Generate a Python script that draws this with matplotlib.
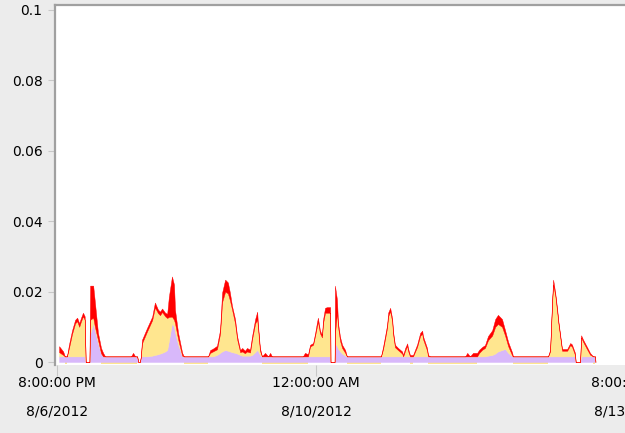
from typing import List

import matplotlib
matplotlib.use('Agg')
import matplotlib.pyplot as plt
from matplotlib import font_manager
import numpy as np

# Constant Value
FIG_BG = '#ececec'
RED = '#ff0000'
YELLOW = '#ffe68f'
PURPLE = '#d8b8fa'
BORDER = '#a0a0a0'
TICK_COLOR = '#c8c8c8'

# hours after 8/6/2012 8:00:00 PM
HOURS = [0.6, 1.8, 2.3, 2.9, 3.5, 4.4, 5.3, 5.9, 6.5, 7.0, 7.6, 8.1, 8.4, 9.5, 9.7, 10.6, 11.1, 12.0,
         12.9, 13.5, 14.1, 21.7, 22.3, 22.9, 23.5, 23.8, 24.3, 24.6, 24.9, 26.4, 27.9, 28.7, 29.6, 30.2,
         30.8, 31.7, 32.3, 32.8, 33.7, 34.3, 34.6, 35.5, 36.7, 37.2, 44.3, 44.9, 45.7, 46.9, 47.8, 48.4,
         49.3, 50.1, 50.7, 51.3, 52.2, 52.8, 53.7, 54.3, 55.1, 55.7, 56.6, 57.2, 58.1, 58.7, 58.9, 59.5,
         60.1, 61.0, 61.9, 62.5, 63.0, 72.1, 72.7, 73.6, 74.2, 75.1, 75.7, 76.2, 76.5, 77.1, 77.7, 78.0,
         78.6, 79.2, 80.1, 80.2, 81.4, 81.5, 82.1, 82.4, 83.0, 83.6, 84.5, 85.0, 95.0, 95.6, 96.2, 96.8,
         97.1, 97.7, 98.3, 98.5, 99.1, 100.0, 101.2, 101.5, 102.1, 102.7, 102.9, 103.5, 104.4, 105.6,
         106.5, 107.1, 107.3, 108.5, 108.8, 109.4, 119.7, 120.3, 121.1, 122.0, 123.2, 123.8, 124.7,
         125.5, 126.4, 127.6, 128.5, 129.3, 130.5, 131.4, 132.3, 133.5, 133.7, 144.0, 144.6, 145.2,
         145.5, 146.1, 146.7, 147.0, 147.6, 148.1, 149.6, 150.5, 151.0, 151.9, 152.1, 153.4, 153.7,
         154.3, 155.4, 156.3, 157.2, 157.8, 157.9]

# series values in thousandths, stacked bottom to top
PURPLE_VALUES = [1.6, 1.6, 1.6, 1.6, 1.6, 1.6, 1.6, 1.6, 1.6, 1.6, 1.6, 1.6, 0, 0, 8.0, 11.0, 9.0, 5.4,
                 2.5, 1.6, 1.6, 1.6, 1.6, 1.6, 1.6, 0, 0, 1.6, 1.6, 1.6, 1.8, 2.0, 2.2, 2.4,
                 2.6, 3.0, 3.4, 6.0, 11.0, 10.0, 8.5, 5.0, 1.6, 1.6, 1.6, 1.6, 1.6, 2.0, 2.6, 3.0,
                 3.4, 3.2, 3.0, 2.8, 2.6, 2.4, 2.0, 1.8, 1.8, 1.8, 1.8, 2.0, 2.8, 3.4, 3.2, 2.0,
                 1.6, 1.6, 1.6, 1.6, 1.6, 1.6, 1.6, 1.6, 1.6, 1.6, 1.6, 1.6, 1.6, 1.6, 1.6, 1.6,
                 1.6, 1.6, 1.6, 0, 0, 5.4, 4.5, 3.8, 3.0, 2.4, 1.8, 1.6, 1.6, 1.6, 1.6, 1.6,
                 1.6, 1.6, 1.6, 1.6, 1.6, 1.6, 1.6, 1.6, 1.6, 1.6, 1.6, 1.6, 1.6, 1.6,
                 1.6, 1.6, 1.6, 1.6, 1.6, 1.6, 1.6, 1.6, 1.6, 1.6, 1.6, 1.6, 1.6,
                 1.6, 1.8, 2.0, 2.4, 3.0, 3.4, 3.7, 2.6, 1.6, 1.6, 1.6, 1.6, 1.6,
                 1.6, 1.6, 1.6, 1.6, 1.6, 1.6, 1.6, 1.6, 1.6, 1.6, 0, 0, 1.6,
                 1.6, 1.6, 1.6, 1.6, 1.6, 0]
YELLOW_VALUES = [1.2, 0.4, 0, 0, 2.4, 6.4, 9.4, 10.0, 8.4, 9.9, 11.4, 10.4, 0, 0, 4.0, 1.6, 1.0, 0.9,
                 0, 0, 0, 0, 0, 0, 0, 0, 0, 0, 3.7, 7.1, 10.1, 13.5, 11.7, 10.9,
                 11.6, 10.0, 9.1, 6.8, 1.9, 2.0, 2.5, 1.5, 0.2, 0, 0, 1.0, 1.4, 1.6, 5.4, 14.0,
                 16.6, 16.3, 14.5, 12.2, 8.4, 4.1, 0.8, 1.2, 0.7, 1.2, 0.9, 4.5, 8.2, 8.6, 6.8, 1.2,
                 0, 0, 0, 0, 0, 0, 0, 0, 2.8, 3.3, 6.0, 8.4, 9.9, 6.6, 5.4, 9.4,
                 12.4, 12.4, 12.4, 0, 0, 2.6, 9.5, 6.2, 3.0, 1.6, 0.8, 0, 0, 2.0, 5.0, 8.2,
                 11.4, 12.8, 9.8, 6.6, 2.6, 1.8, 0.8, 0, 1.7, 3.0, 1.7, 0, 0, 2.7,
                 5.9, 6.4, 5.0, 1.7, 0, 0, 0, 0, 0, 0, 0, 1.0, 1.9,
                 2.4, 4.4, 5.5, 7.6, 7.8, 6.6, 3.8, 1.9, 0.2, 0, 0, 1.4, 15.4,
                 20.4, 17.4, 12.4, 9.6, 5.2, 1.6, 1.6, 3.2, 2.8, 0.4, 0, 0, 5.4,
                 4.1, 2.1, 0.5, 0, 0, 0]
RED_VALUES = [1.7, 1.0, 0, 0, 1.0, 1.0, 1.0, 1.0, 1.0, 1.0, 1.0, 1.0, 0, 0, 9.7, 9.1, 7.0, 2.0,
              1.5, 1.0, 0, 0, 1.0, 0, 0, 0, 0, 0, 1.0, 1.0, 1.0, 1.4, 1.0, 1.0,
              1.0, 1.0, 1.2, 5.8, 11.4, 10.0, 3.8, 1.8, 0.8, 0, 0, 0.8, 0.8, 1.0, 1.1, 2.7,
              3.4, 3.1, 2.2, 1.0, 1.2, 0.9, 0.6, 1.0, 0.7, 1.0, 0.8, 0.9, 1.2, 2.3, 1.0, 0.8,
              0, 1.0, 0, 1.0, 0, 0, 1.0, 0.6, 0.5, 0.5, 0.7, 1.1, 1.1, 0.8, 0.6, 1.0,
              1.4, 1.6, 1.6, 0, 0, 13.7, 3.7, 1.1, 1.1, 0.9, 0.8, 0, 0, 0.7, 0.8, 0.8,
              1.0, 1.0, 0.8, 0.8, 0.7, 0.6, 0.6, 0.4, 0.7, 0.7, 0.7, 0.4, 0.4, 0.7,
              0.8, 0.9, 0.8, 0.7, 0.4, 0, 0, 1.0, 0, 1.0, 1.0, 0.9, 0.8,
              0.8, 1.2, 1.5, 2.2, 2.6, 2.2, 1.5, 1.2, 0.8, 0, 0, 0.5, 0.7,
              1.4, 0.7, 0.8, 0.6, 0.6, 0.5, 0.5, 0.6, 0.6, 0.6, 0, 0, 0.6,
              0.6, 0.6, 0.5, 0, 0, 0]

Y_TICKS = [0, 0.02, 0.04, 0.06, 0.08, 0.1]
Y_TICK_LABELS = ['0', '0.02', '0.04', '0.06', '0.08', '0.1']
X_TICKS = [0, 76, 168]
X_TICK_LABELS = ['8:00:00 PM\n8/6/2012', '12:00:00 AM\n8/10/2012', '8:00:00 PM\n8/13/2012']


def pick_font() -> dict:
    # narrow face if one is installed, otherwise a smaller regular face
    installed = {f.name for f in font_manager.fontManager.ttflist}
    for family in ['Liberation Sans Narrow', 'DejaVu Sans Condensed']:
        if family in installed:
            return {'family': [family, 'DejaVu Sans'], 'fontsize': 12}
    return {'family': ['DejaVu Sans'], 'fontsize': 10}


def view_stacked_area(hours: List[float], purple: List[float], yellow: List[float], red: List[float]):
    x = np.array(hours)
    p = np.array(purple) / 1000
    y = np.array(yellow) / 1000
    r = np.array(red) / 1000
    font = pick_font()

    fig = plt.figure(figsize=(6.25, 4.33), dpi=100, facecolor=FIG_BG)
    ax = fig.add_axes([0.088, 0.157, 0.958, 0.8315])
    ax.set_facecolor('white')

    # thin yellow strip under the baseline where the yellow series is zero
    ax.fill_between(x, -0.0007, 0, where=(y == 0) & (p > 0), color=YELLOW, lw=0)
    ax.stackplot(x, p, y, r, colors=[PURPLE, YELLOW, RED], lw=0.3,
                 edgecolor='face', baseline='zero')

    ax.set_xlim(-0.6, 175)
    ax.set_ylim(-0.00085, 0.1014)
    ax.set_yticks(Y_TICKS, Y_TICK_LABELS, **font)
    ax.set_xticks(X_TICKS, X_TICK_LABELS, linespacing=2.3, **font)
    ax.tick_params(axis='y', length=5, color=TICK_COLOR, pad=4)
    ax.tick_params(axis='x', length=8, color=TICK_COLOR, pad=0)

    for side in ['right', 'bottom']:
        ax.spines[side].set_visible(False)
    for side in ['left', 'top']:
        ax.spines[side].set_color(BORDER)
        ax.spines[side].set_linewidth(1.6)

    fig.savefig('out.png', dpi=100, facecolor=FIG_BG)


view_stacked_area(HOURS, PURPLE_VALUES, YELLOW_VALUES, RED_VALUES)
